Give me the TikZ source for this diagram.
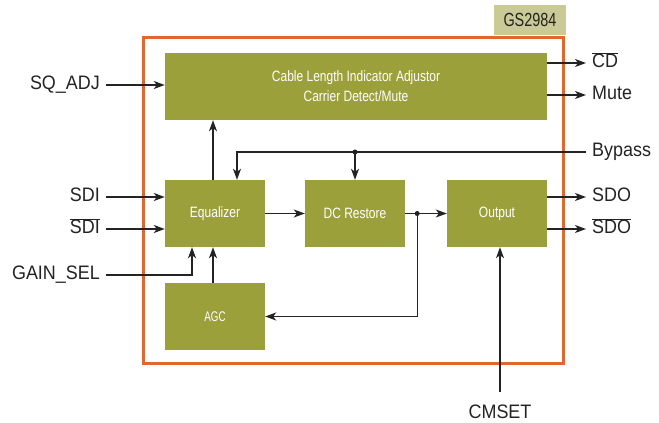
\documentclass[tikz,border=0pt]{standalone}
\usepackage{fontspec}
\setmainfont{Liberation Sans}
\newfontfamily\labfont[FakeStretch=0.92]{Liberation Sans}
\newfontfamily\blkfont[FakeStretch=0.8]{Liberation Sans}
\newfontfamily\tagfont[FakeStretch=0.76]{Liberation Sans}
\newfontfamily\agcfont[FakeStretch=0.7]{Liberation Sans}
\usepackage{xcolor}
\usepackage{tikz}
\usetikzlibrary{
    positioning,
    arrows.meta,
    calc
}
\definecolor{blkolive}{RGB}{156,160,58}
\definecolor{chiporange}{RGB}{224,104,44}
\definecolor{tagfill}{RGB}{202,202,150}
\definecolor{inkgray}{RGB}{35,35,35}
\newcommand{\ovl}[1]{$\overline{\mbox{#1}}$}

\begin{document}
\begin{tikzpicture}[x=1pt, y=-1pt,
    blk/.style={fill=blkolive, text=white, minimum width=100, minimum height=67,
                inner sep=0pt, align=center, font=\blkfont\fontsize{15}{20}\selectfont},
    arr/.style={-{Stealth[length=11pt, width=8pt, inset=3pt]}, line width=1.3pt, draw=inkgray},
    lab/.style={text=inkgray, font=\labfont\fontsize{19.5}{22}\selectfont, inner sep=6pt,
                text height=14pt, text depth=4.5pt}]

    \useasboundingbox (0,0) rectangle (659,423);

    % Chip outline and part number
    \node[draw=chiporange, line width=3pt, minimum width=420, minimum height=326,
          inner sep=0pt] (chip) at (353,200) {};
    \node[fill=tagfill, text=inkgray, minimum width=72, minimum height=30, inner sep=0pt,
          font=\tagfont\fontsize{19}{20}\selectfont] (tag) at (530,20) {GS2984};

    % Blocks
    \node[blk, minimum width=382] (CLI) at (356,86.5)
      {Cable Length Indicator Adjustor\\Carrier Detect/Mute};
    \node[blk] (EQ) at (215,213.5) {Equalizer};
    \node[blk] (DCR) at (355,213.5) {DC Restore};
    \node[blk] (OUT) at (497,213.5) {Output};
    \node[blk, font=\agcfont\fontsize{14}{16}\selectfont] (AGC) at (215,316.5) {AGC};

    % Pins, left side
    \node[lab, anchor=east] (SQ) at (106,85) {SQ\_ADJ};
    \node[lab, anchor=east] (SDI) at (106,197) {SDI};
    \node[lab, anchor=east] (SDIN) at (106,229) {\ovl{SDI}};
    \node[lab, anchor=east] (GAIN) at (106,275) {GAIN\_SEL};

    % Pins, right side
    \node[lab, anchor=west] (CD) at (586,63) {\ovl{CD}};
    \node[lab, anchor=west] (MUTE) at (586,95) {Mute};
    \node[lab, anchor=west] (BYP) at (586,152) {Bypass};
    \node[lab, anchor=west] (SDO) at (586,197) {SDO};
    \node[lab, anchor=west] (SDON) at (586,229) {\ovl{SDO}};

    % Pin, bottom
    \node[lab, anchor=base, inner ysep=12pt, text height=, text depth=] (CM) at (500,418) {CMSET};

    % Inputs
    \draw[arr] (SQ.east) -- (SQ.east -| CLI.west);
    \draw[arr] (SDI.east) -- (SDI.east -| EQ.west);
    \draw[arr] (SDIN.east) -- (SDIN.east -| EQ.west);
    \draw[arr] (GAIN.east) -| ([xshift=-23pt]EQ.south);

    % Outputs
    \draw[arr] (CLI.east |- CD.west) -- (CD.west);
    \draw[arr] (CLI.east |- MUTE.west) -- (MUTE.west);
    \draw[arr] (OUT.east |- SDO.west) -- (SDO.west);
    \draw[arr] (OUT.east |- SDON.west) -- (SDON.west);

    % Bypass
    \coordinate (bj) at (DCR.north |- BYP.west);
    \draw[arr] (BYP.west) -| ([xshift=22pt]EQ.north);
    \draw[arr] (bj) -- (DCR.north);
    \fill[inkgray] (bj) circle (2.5pt);

    % Signal path
    \draw[arr] ([xshift=-2pt]EQ.north) -- ([xshift=-2pt]EQ.north |- CLI.south);
    \draw[arr] (EQ.east) -- (DCR.west);
    \coordinate (jn) at ([xshift=12pt]DCR.east);
    \draw[arr] (DCR.east) -- (OUT.west);
    \draw[arr] (jn) |- (AGC.east);
    \fill[inkgray] (jn) circle (2.5pt);
    \draw[arr] ([xshift=-2pt]AGC.north) -- ([xshift=-2pt]EQ.south);
    \draw[arr] (CM.north) -- (CM.north |- OUT.south);

\end{tikzpicture}
\end{document}
